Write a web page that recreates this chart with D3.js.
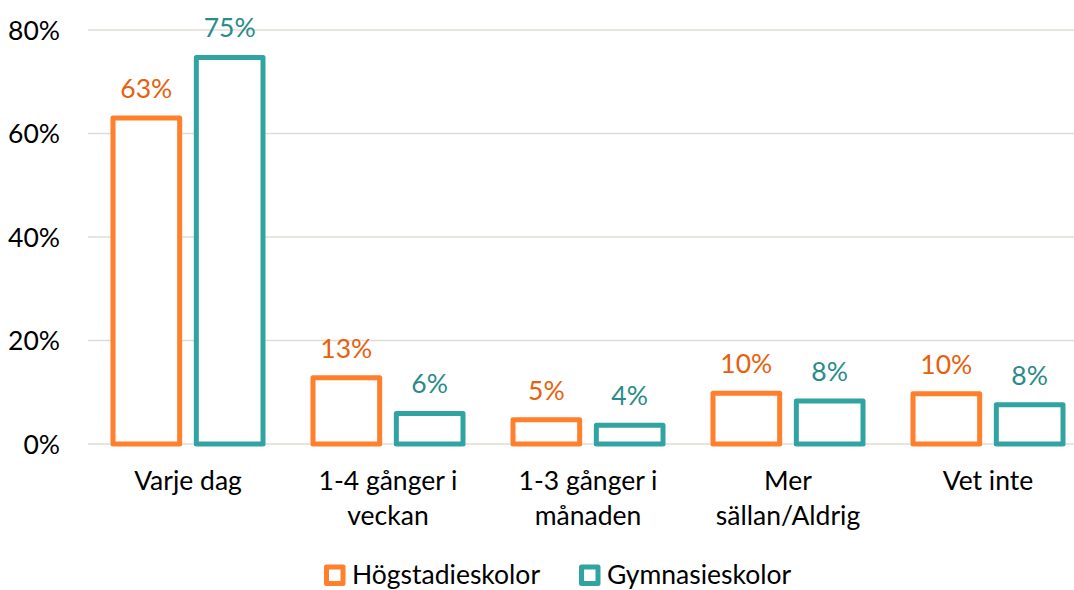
<!DOCTYPE html>
<html><head><meta charset="utf-8">
<script src="https://cdn.jsdelivr.net/npm/d3@7"></script>
<style>html,body{margin:0;padding:0;background:#fff;}svg{display:block;}text{font-family:Lato,"Open Sans",sans-serif;}</style>
</head><body>
<svg id="c" width="1074" height="590"></svg>
<script>
const categories = ["Varje dag", "1-4 gånger i veckan", "1-3 gånger i månaden", "Mer sällan/Aldrig", "Vet inte"];
const series = ["Högstadieskolor", "Gymnasieskolor"];
const hogstadie = [63, 12.8, 4.7, 9.8, 9.7];
const gymnasie = [74.7, 5.9, 3.6, 8.3, 7.6];
const hogstadieLabels = ["63%", "13%", "5%", "10%", "10%"];
const gymnasieLabels = ["75%", "6%", "4%", "8%", "8%"];
const yTicks = [0, 20, 40, 60, 80];

const strokeColors = ["#FF7F2A", "#31A3A1"];
const textColors = ["#E8600E", "#2A8C8A"];
const values = [hogstadie, gymnasie];
const labels = [hogstadieLabels, gymnasieLabels];

const svg = d3.select("#c");
const FS = 26.5;
const y = d3.scaleLinear().domain([0, 80]).range([444, 30]);
const x = d3.scaleBand().domain(categories).range([88, 1088]).padding(0);
const bw = x.bandwidth();
const x1 = d3.scaleBand().domain(series).range([bw * 0.125, bw * 0.875]).paddingInner(0.2);

// gridlines
svg.append("g").selectAll("line").data(yTicks).join("line")
  .attr("x1", 88).attr("x2", 1074)
  .attr("y1", d => y(d)).attr("y2", d => y(d))
  .attr("stroke", "#DEDCD6").attr("stroke-width", 1.5);

// y axis labels
const yAxis = d3.axisLeft(y).tickValues(yTicks).tickFormat(d => d + "%").tickSize(0).tickPadding(0);
const ga = svg.append("g").attr("transform", "translate(60,0)").call(yAxis);
ga.select(".domain").remove();
ga.selectAll("text").attr("font-size", FS).attr("fill", "#000").attr("font-family", "Lato,'Open Sans',sans-serif")
  .attr("dy", "0.35em");

// bars
series.forEach((s, si) => {
  const g = svg.append("g");
  g.selectAll("rect").data(categories).join("rect")
    .attr("x", d => x(d) + x1(s))
    .attr("width", x1.bandwidth())
    .attr("y", (d, i) => y(values[si][i]))
    .attr("height", (d, i) => y(0) - y(values[si][i]))
    .attr("fill", "#fff").attr("stroke", strokeColors[si]).attr("stroke-width", 5)
    .attr("stroke-linejoin", "round");
  g.selectAll("text").data(categories).join("text")
    .attr("x", d => x(d) + x1(s) + x1.bandwidth() / 2)
    .attr("y", (d, i) => y(values[si][i]) - 20)
    .attr("text-anchor", "middle").attr("font-size", FS).attr("fill", textColors[si])
    .text((d, i) => labels[si][i]);
});

// category labels with wrapping
const xg = svg.append("g");
categories.forEach(c => {
  const words = c.split(" ");
  const t = xg.append("text").attr("text-anchor", "middle").attr("font-size", FS).attr("fill", "#000");
  let lines = [], cur = [];
  const meas = svg.append("text").attr("font-size", FS);
  words.forEach(w => {
    const trial = cur.concat([w]).join(" ");
    meas.text(trial);
    if (meas.node().getComputedTextLength() > 165 && cur.length) { lines.push(cur.join(" ")); cur = [w]; }
    else cur.push(w);
  });
  lines.push(cur.join(" "));
  meas.remove();
  lines.forEach((l, i) => {
    t.append("tspan").attr("x", x(c) + bw / 2).attr("y", 490 + i * 35).text(l);
  });
});

// legend
const leg = svg.append("g");
const legX = [326.5, 581.5];
series.forEach((s, i) => {
  leg.append("rect").attr("x", legX[i]).attr("y", 567).attr("width", 16.5).attr("height", 16.5)
    .attr("fill", "#fff").attr("stroke", strokeColors[i]).attr("stroke-width", 5).attr("stroke-linejoin", "round");
  leg.append("text").attr("x", legX[i] + 25.5).attr("y", 584).attr("font-size", FS).attr("fill", "#000").text(s);
});
</script>
</body></html>
